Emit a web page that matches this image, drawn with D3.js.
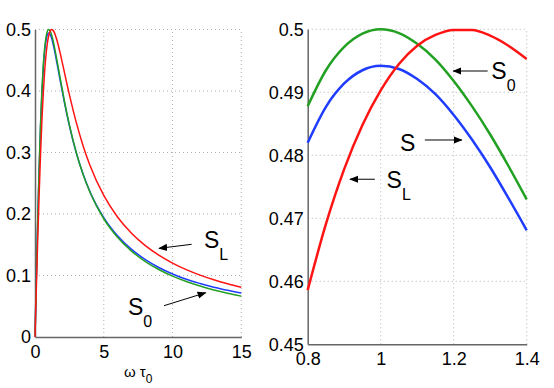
<!DOCTYPE html>
<html>
<head>
<meta charset="utf-8">
<script src="https://cdn.jsdelivr.net/npm/d3@7"></script>
<style>
  body { margin: 0; background: #fff; }
  svg { display: block; font-family: "Liberation Sans", Arial, sans-serif; }
</style>
</head>
<body>
<div id="chart"></div>
<script>
// left panel: whole range of omega tau_0
var xWide = [0, 0.1, 0.2, 0.3, 0.4, 0.5, 0.6, 0.7, 0.8, 0.9, 1.0, 1.1, 1.2, 1.3, 1.4, 1.6, 1.8, 2, 2.5, 3, 3.5, 4, 5, 6, 7, 8, 9, 10, 11, 12, 13, 14, 15];
var sWide = [0, 0.0978, 0.1900, 0.2720, 0.3408, 0.3950, 0.4360, 0.4643, 0.4820, 0.4914, 0.4942, 0.4921, 0.4864, 0.4781, 0.4681, 0.4450, 0.4210, 0.3975, 0.3435, 0.2995, 0.2645, 0.2360, 0.1940, 0.1645, 0.1428, 0.1262, 0.1130, 0.1025, 0.0938, 0.0870, 0.0810, 0.0760, 0.0715];
var s0Wide = [0, 0.0990, 0.1923, 0.2752, 0.3448, 0.4000, 0.4412, 0.4698, 0.4878, 0.4972, 0.5000, 0.4977, 0.4918, 0.4833, 0.4730, 0.4494, 0.4245, 0.4000, 0.3448, 0.3000, 0.2642, 0.2353, 0.1923, 0.1622, 0.1400, 0.1231, 0.1098, 0.0990, 0.0902, 0.0828, 0.0765, 0.0711, 0.0664];
var sLWide = [0, 0.0815, 0.1597, 0.2320, 0.2961, 0.3510, 0.3961, 0.4317, 0.4586, 0.4778, 0.4903, 0.4974, 0.4999, 0.4990, 0.4953, 0.4821, 0.4644, 0.4445, 0.3940, 0.3489, 0.3107, 0.2790, 0.2302, 0.1952, 0.1691, 0.1490, 0.1331, 0.1202, 0.1095, 0.1006, 0.0930, 0.0865, 0.0808];

// right panel: close-up of the peak
var xZoom = [0.8, 0.85, 0.9, 0.95, 1.0, 1.05, 1.1, 1.15, 1.2, 1.25, 1.3, 1.35, 1.4];
var sZoom = [0.4820, 0.4877, 0.4914, 0.4935, 0.4942, 0.4937, 0.4921, 0.4897, 0.4864, 0.4825, 0.4781, 0.4732, 0.4681];
var s0Zoom = [0.4878, 0.4935, 0.4972, 0.4993, 0.5000, 0.4994, 0.4977, 0.4952, 0.4918, 0.4878, 0.4833, 0.4783, 0.4730];
var sLZoom = [0.4586, 0.4691, 0.4778, 0.4848, 0.4903, 0.4945, 0.4974, 0.4991, 0.4999, 0.4999, 0.4990, 0.4974, 0.4953];

var xTicksWide = [0, 5, 10, 15];
var yTicksWide = [0, 0.1, 0.2, 0.3, 0.4, 0.5];
var xTicksZoom = [0.8, 1, 1.2, 1.4];
var yTicksZoom = [0.45, 0.46, 0.47, 0.48, 0.49, 0.5];

var colS = "#1f3cff", colS0 = "#22a022", colSL = "#ff1414";

var svg = d3.select("#chart").append("svg").attr("width", 554).attr("height", 388);

svg.append("defs").append("marker")
  .attr("id", "head")
  .attr("viewBox", "0 0 10 10")
  .attr("refX", 9).attr("refY", 5)
  .attr("markerWidth", 9).attr("markerHeight", 9)
  .attr("markerUnits", "userSpaceOnUse")
  .attr("orient", "auto")
  .append("path").attr("d", "M0,1 L10,5 L0,9 z").attr("fill", "#000");

function panel(opt) {
  var x = d3.scaleLinear().domain(opt.xDomain).range([opt.left, opt.right]);
  var y = d3.scaleLinear().domain(opt.yDomain).range([opt.bottom, opt.top]);
  var g = svg.append("g");

  // dotted grid
  g.append("g").selectAll("line").data(opt.xTicks.slice(1)).enter().append("line")
    .attr("x1", d => x(d)).attr("x2", d => x(d))
    .attr("y1", opt.bottom).attr("y2", opt.top)
    .attr("stroke", "#b0b0b0").attr("stroke-dasharray", "1,3");
  g.append("g").selectAll("line").data(opt.yTicks.slice(1)).enter().append("line")
    .attr("y1", d => y(d)).attr("y2", d => y(d))
    .attr("x1", opt.left).attr("x2", opt.right)
    .attr("stroke", "#b0b0b0").attr("stroke-dasharray", "1,3");

  var xAxis = g.append("g").attr("transform", "translate(0," + opt.bottom + ")")
    .call(d3.axisBottom(x).tickValues(opt.xTicks).tickSize(0).tickPadding(8).tickFormat(d3.format("")));
  var yAxis = g.append("g").attr("transform", "translate(" + opt.left + ",0)")
    .call(d3.axisLeft(y).tickValues(opt.yTicks).tickSize(0).tickPadding(4).tickFormat(d3.format("")));
  [xAxis, yAxis].forEach(function (a) {
    a.select(".domain").attr("stroke", "#666").attr("stroke-width", 1.5);
    a.selectAll("text").attr("fill", "#000").style("font-size", "18px")
      .style("font-family", "Liberation Sans, Arial, sans-serif");
  });

  var line = d3.line().x(d => x(d[0])).y(d => y(d[1])).curve(d3.curveMonotoneX);
  opt.series.forEach(function (s) {
    g.append("path")
      .datum(opt.xs.map((v, i) => [v, s.values[i]]))
      .attr("d", line)
      .attr("fill", "none")
      .attr("stroke", s.color)
      .attr("stroke-width", opt.lw);
  });

  opt.notes.forEach(function (n) {
    g.append("line")
      .attr("x1", x(n.from[0])).attr("y1", y(n.from[1]))
      .attr("x2", x(n.to[0])).attr("y2", y(n.to[1]))
      .attr("stroke", "#000").attr("stroke-width", 1)
      .attr("marker-end", "url(#head)");
    var t = g.append("text")
      .attr("x", x(n.at[0])).attr("y", y(n.at[1]))
      .style("font-size", "23px").attr("fill", "#000")
      .text("S");
    if (n.sub) {
      t.append("tspan").attr("dx", 0).attr("dy", 12).style("font-size", "16px").text(n.sub);
    }
  });
  return { x: x, y: y };
}

var left = panel({
  left: 35, right: 241.3, top: 29.5, bottom: 337,
  xDomain: [0, 15], yDomain: [0, 0.5],
  xTicks: xTicksWide, yTicks: yTicksWide,
  xs: xWide, lw: 1.5,
  series: [
    { values: sWide, color: colS },
    { values: s0Wide, color: colS0 },
    { values: sLWide, color: colSL }
  ],
  notes: [
    { at: [12.29, 0.1447], sub: "L", from: [11.39, 0.1507], to: [9.02, 0.1442] },
    { at: [6.76, 0.0358], sub: "0", from: [9.38, 0.0509], to: [12.41, 0.0720] }
  ]
});

panel({
  left: 307.7, right: 526.7, top: 29.3, bottom: 344.3,
  xDomain: [0.8, 1.4], yDomain: [0.45, 0.5],
  xTicks: xTicksZoom, yTicks: yTicksZoom,
  xs: xZoom, lw: 2.5,
  series: [
    { values: sZoom, color: colS },
    { values: s0Zoom, color: colS0 },
    { values: sLZoom, color: colSL }
  ],
  notes: [
    { at: [1.303, 0.49211], sub: "0", from: [1.293, 0.49338], to: [1.199, 0.49338] },
    { at: [1.053, 0.48073], sub: null, from: [1.121, 0.48243], to: [1.222, 0.48243] },
    { at: [1.016, 0.47481], sub: "L", from: [0.984, 0.4762], to: [0.916, 0.4762] }
  ]
});

// x label of the left panel
var xl = svg.append("text")
  .attr("x", left.x(7.5)).attr("y", 377)
  .attr("text-anchor", "middle")
  .style("font-size", "15px")
  .text("ω τ");
xl.append("tspan").attr("dy", 6).style("font-size", "12px").text("0");
</script>
</body>
</html>
